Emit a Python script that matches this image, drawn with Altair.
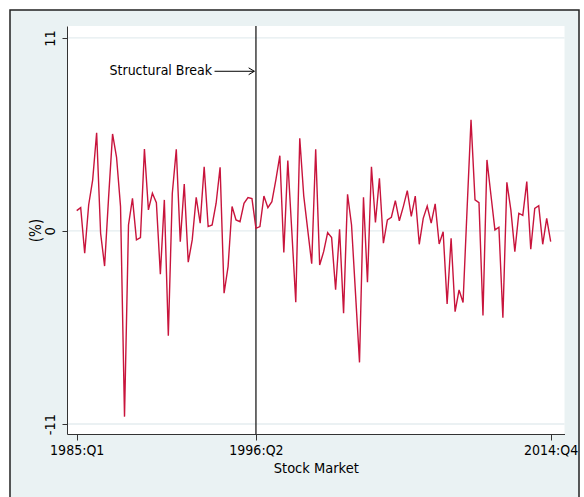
import altair as alt
import pandas as pd

# Quarterly stock market returns (%), 1985:Q1 - 2014:Q4
START_YEAR = 1985
returns = [
    1.16, 1.33, -1.27, 1.48, 2.90, 5.60, -0.13, -2.00, 1.90, 5.53,
    4.20, 1.39, -10.58, 0.34, 1.86, -0.51, -0.38, 4.67, 1.20, 2.15,
    1.61, -2.47, 1.77, -5.97, 2.15, 4.65, -0.61, 2.68, -1.78, -0.51,
    1.92, 0.44, 3.66, 0.25, 0.34, 1.58, 3.63, -3.55, -2.03, 1.39,
    0.63, 0.53, 1.58, 1.90, 1.84, 0.15, 0.25, 1.99, 1.33, 1.67,
    2.91, 4.29, -1.23, 4.01, 0.00, -4.06, 5.28, 2.00, 0.06, -1.86,
    4.65, -1.94, -1.18, -0.09, -0.38, -3.35, 0.09, -4.69, 2.09, 0.34,
    -3.57, -7.49, 1.92, -2.92, 3.66, 0.48, 3.00, -0.70, 0.63, 0.78,
    1.73, 0.58, 1.39, 2.30, 0.83, 1.99, -0.76, 0.72, 1.42, 0.45,
    1.54, -0.74, -0.04, -4.16, -0.42, -4.60, -3.36, -4.08, 1.20, 6.33,
    1.77, 1.61, -4.82, 4.05, 2.05, 0.06, 0.21, -4.94, 2.77, 1.20,
    -1.18, 1.01, 0.89, 2.81, -1.04, 1.29, 1.44, -0.76, 0.72, -0.61,
]
quarter_index = list(range(len(returns)))
x_ticks = [0, 45, 119]          # 1985:Q1, 1996:Q2, 2014:Q4
y_ticks = [-11, 0, 11]
break_quarter = 45              # 1996:Q2
annotation_text = ["Structural Break"]
annotation_x = [34.0]
annotation_y = [9.1]
arrow_start = [34.6]
arrow_end = [44.6]

FONT = "DejaVu Sans Condensed, Liberation Sans, Arial, sans-serif"
RED = "#C8143C"
FRAME_BG = "#EAF2F3"
W, H = 497.5, 408

series = pd.DataFrame({"q": quarter_index, "ret": returns})
grid = pd.DataFrame({"y": y_ticks})
brk = pd.DataFrame({"q": [break_quarter]})
note = pd.DataFrame({"q": annotation_x, "y": annotation_y, "label": annotation_text})
arrow = pd.DataFrame({"q": arrow_start, "q2": arrow_end, "y": annotation_y})
one = pd.DataFrame({"k": [0]})

x_scale = alt.Scale(domain=[-2.44, 122.47], nice=False, zero=False)
y_scale = alt.Scale(domain=[-11.57, 11.68], nice=False, zero=False)

x_axis = alt.Axis(
    values=x_ticks,
    labelExpr=f"toString({START_YEAR} + floor(datum.value / 4)) + ':Q' + toString(datum.value % 4 + 1)",
    grid=False, domainColor="#333333", tickColor="#333333", tickSize=6,
    labelFont=FONT, labelFontSize=14, labelColor="black", labelPadding=3,
    labelFlush=False, labelOverlap=False,
    title="Stock Market", titleFont=FONT, titleFontSize=14.5,
    titleFontWeight="normal", titleColor="black", titlePadding=4, zindex=1,
)
y_axis = alt.Axis(
    values=y_ticks, labelExpr="toString(datum.value)",
    grid=False, domainColor="#333333", tickColor="#333333",
    tickSize=5, labelAngle=270, labelAlign="center", labelBaseline="bottom",
    labelFont=FONT, labelFontSize=14.5, labelColor="black", labelPadding=5,
    title="(%)", titleFont=FONT, titleFontSize=15, titleFontWeight="normal",
    titleColor="black", titlePadding=-1, zindex=1,
)

# Outer figure frame and white plotting region
frame = alt.Chart(one).mark_rect(
    fill=FRAME_BG, stroke="#222222", strokeWidth=1.5
).encode(
    x=alt.value(-57), x2=alt.value(512), y=alt.value(-16), y2=alt.value(495)
)
plot_bg = alt.Chart(one).mark_rect(fill="white").encode(
    x=alt.value(0), x2=alt.value(W), y=alt.value(0), y2=alt.value(H)
)

gridlines = alt.Chart(grid).mark_rule(color="#E4EDEF", strokeWidth=1.3).encode(
    y=alt.Y("y:Q", scale=y_scale, axis=y_axis)
)

line = alt.Chart(series).mark_line(color=RED, strokeWidth=1.4).encode(
    x=alt.X("q:Q", scale=x_scale, axis=x_axis),
    y=alt.Y("ret:Q", scale=y_scale),
)

break_line = alt.Chart(brk).mark_rule(color="#1f1f1f", strokeWidth=1.3).encode(
    x=alt.X("q:Q", scale=x_scale)
)

label = alt.Chart(note).mark_text(
    align="right", baseline="middle", font=FONT, fontSize=14, color="black"
).encode(
    x=alt.X("q:Q", scale=x_scale), y=alt.Y("y:Q", scale=y_scale), text="label:N"
)

arrow_shaft = alt.Chart(arrow).mark_rule(color="black", strokeWidth=1).encode(
    x=alt.X("q:Q", scale=x_scale), x2="q2:Q", y=alt.Y("y:Q", scale=y_scale)
)
arrow_head = alt.Chart(arrow).mark_point(
    shape="M-1,-0.6L0,0L-1,0.6", filled=False, color="black",
    strokeWidth=1, size=130, opacity=1
).encode(
    x=alt.X("q2:Q", scale=x_scale), y=alt.Y("y:Q", scale=y_scale)
)

chart = alt.layer(
    frame, plot_bg, gridlines, break_line, line, label, arrow_shaft, arrow_head
).properties(
    width=W, height=H,
    autosize=alt.AutoSizeParams(type="none"),
    padding={"left": 67, "top": 26, "right": 19.5, "bottom": 63},
    background="white",
).configure_view(stroke=None)

chart.save("out.html", embed_options={"renderer": "svg", "actions": False})
